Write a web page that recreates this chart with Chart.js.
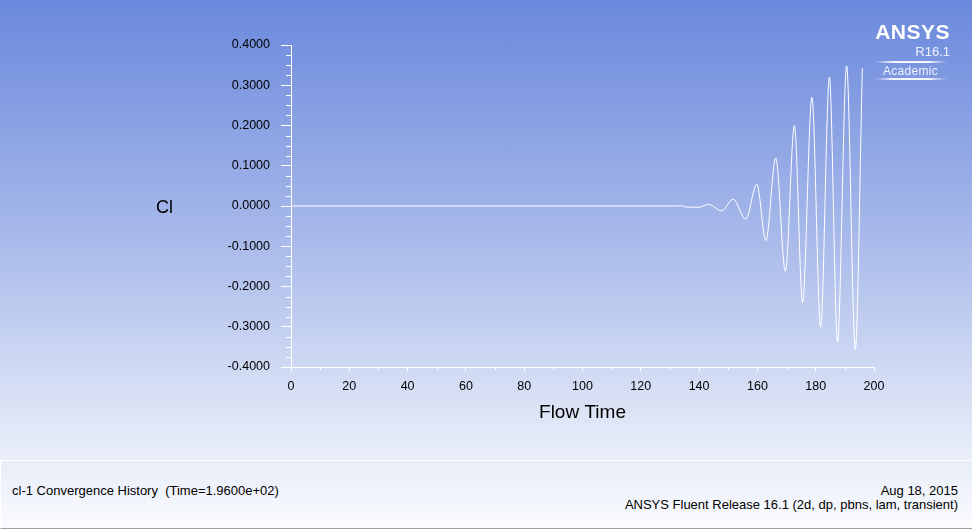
<!DOCTYPE html>
<html>
<head>
<meta charset="utf-8">
<script src="https://cdn.jsdelivr.net/npm/chart.js@4"></script>
<style>
  html, body { margin: 0; padding: 0; }
  body { width: 972px; height: 529px; overflow: hidden; font-family: "Liberation Sans", Arial, sans-serif; }
  #page {
    position: relative; width: 972px; height: 529px;
    background: linear-gradient(to bottom, #6a88dc 0px, #a6b8ea 230px, #eaeff9 460px);
  }
  #plot { position: absolute; left: 0; top: 0; width: 972px; height: 460px; }
  #ylabel { position: absolute; left: 156px; top: 197px; font-size: 18px; line-height: 20px; color: #000; }
  .logo { position: absolute; color: #fff; white-space: nowrap; }
  #ansys { right: 22px; top: 21px; font-size: 21px; line-height: 21px; font-weight: bold; letter-spacing: 0.5px; }
  #release { right: 22px; top: 45px; font-size: 13px; line-height: 13px; color: #eef2fc; }
  #academic { left: 883px; top: 65px; font-size: 12px; line-height: 12px; color: #eef2fc; letter-spacing: 0.3px; }
  .glow { position: absolute; left: 875px; width: 72px; height: 2px;
    background: linear-gradient(to right, rgba(255,255,255,0), rgba(255,255,255,0.9) 25%, rgba(255,255,255,0.9) 75%, rgba(255,255,255,0)); }
  #footer {
    position: absolute; left: 0; top: 460px; width: 971px; height: 67px;
    border-top: 1px solid #ffffff; border-left: 1px solid #ffffff; border-bottom: 1px solid #a0a0a0;
    background: linear-gradient(to bottom, #e8edf9, #fafbfe);
  }
  .ftext { position: absolute; font-size: 13px; line-height: 14px; color: #000; white-space: nowrap; }
</style>
</head>
<body>
<div id="page">
  <div id="plot"><canvas id="clChart"></canvas></div>
  <div id="ylabel">Cl</div>
  <div class="logo" id="ansys">ANSYS</div>
  <div class="logo" id="release">R16.1</div>
  <div class="glow" style="top:61px"></div>
  <div class="logo" id="academic">Academic</div>
  <div class="glow" style="top:78px"></div>
  <div id="footer"></div>
  <div class="ftext" style="left:12px; top:484px">cl-1 Convergence History&nbsp;&nbsp;(Time=1.9600e+02)</div>
  <div class="ftext" style="right:14px; top:484px">Aug 18, 2015</div>
  <div class="ftext" style="right:14px; top:498px">ANSYS Fluent Release 16.1 (2d, dp, pbns, lam, transient)</div>
</div>
<script>
// flow time samples and lift coefficient
const flowTime = [0, 133.0, 134.2, 135.0, 138.0, 140.0, 143.2, 147.7, 151.7, 156.0, 159.8, 162.9, 166.3,
    169.6, 172.7, 175.5, 178.7, 181.7, 184.7, 187.5, 190.6, 193.6, 196.0];
const clValues = [0, 0, 0.001, -0.002, -0.003, -0.003, 0.004, -0.012, 0.017, -0.033, 0.054, -0.086, 0.119,
    -0.162, 0.200, -0.240, 0.270, -0.300, 0.320, -0.338, 0.348, -0.356, 0.343];

const xTicks = { min: 0, max: 200, major: 20, minor: 10 };
const yTicks = { min: -0.4, max: 0.4, major: 0.1, minor: 0.025 };

const points = flowTime.map((t, i) => ({ x: t, y: clValues[i] }));

// short minor ticks between the labelled ones
const minorTicks = {
    id: "minorTicks",
    afterDraw(chart) {
        const { ctx, scales: { x, y } } = chart;
        ctx.save();
        ctx.strokeStyle = "#ffffff";
        ctx.lineWidth = 1;
        ctx.beginPath();
        for (let v = xTicks.min; v <= xTicks.max + 1e-9; v += xTicks.minor) {
            if (Math.round(v / xTicks.minor) % 2 === 0) continue;
            const px = Math.round(x.getPixelForValue(v)) + 0.5;
            ctx.moveTo(px, y.bottom);
            ctx.lineTo(px, y.bottom + 3);
        }
        const n = Math.round((yTicks.max - yTicks.min) / yTicks.minor);
        for (let i = 0; i <= n; i++) {
            if (i % 4 === 0) continue;
            const py = Math.round(y.getPixelForValue(yTicks.min + i * yTicks.minor)) + 0.5;
            ctx.moveTo(x.left - 5, py);
            ctx.lineTo(x.left, py);
        }
        ctx.stroke();
        ctx.restore();
    }
};

const tickFont = { family: "'Liberation Sans', Arial, sans-serif", size: 12.5 };

new Chart(document.getElementById("clChart"), {
    type: "line",
    data: {
        datasets: [{
            label: "cl-1",
            data: points,
            borderColor: "#ffffff",
            borderWidth: 1,
            pointRadius: 0,
            cubicInterpolationMode: "monotone",
            fill: false
        }]
    },
    options: {
        responsive: true,
        maintainAspectRatio: false,
        animation: false,
        layout: { padding: { left: 0, right: 98, top: 45, bottom: 0 } },
        plugins: { legend: { display: false }, tooltip: { enabled: false } },
        scales: {
            x: {
                type: "linear",
                min: xTicks.min,
                max: xTicks.max,
                afterFit: s => { s.height = 93; },
                ticks: { stepSize: xTicks.major, color: "#000", font: tickFont, padding: 8, maxRotation: 0 },
                grid: { drawOnChartArea: false, tickLength: 4, color: "#ffffff" },
                border: { color: "#ffffff", width: 1 },
                title: {
                    display: true,
                    text: "Flow Time",
                    color: "#000",
                    font: { family: "'Liberation Sans', Arial, sans-serif", size: 19 },
                    padding: { top: 0, bottom: 36 }
                }
            },
            y: {
                min: yTicks.min,
                max: yTicks.max,
                afterFit: s => { s.width = 291; },
                ticks: {
                    stepSize: yTicks.major,
                    color: "#000",
                    font: tickFont,
                    padding: 11,
                    callback: v => (Math.abs(v) < 1e-9 ? 0 : v).toFixed(4)
                },
                grid: { drawOnChartArea: false, tickLength: 10, color: "#ffffff" },
                border: { color: "#ffffff", width: 1 }
            }
        }
    },
    plugins: [minorTicks]
});
</script>
</body>
</html>
